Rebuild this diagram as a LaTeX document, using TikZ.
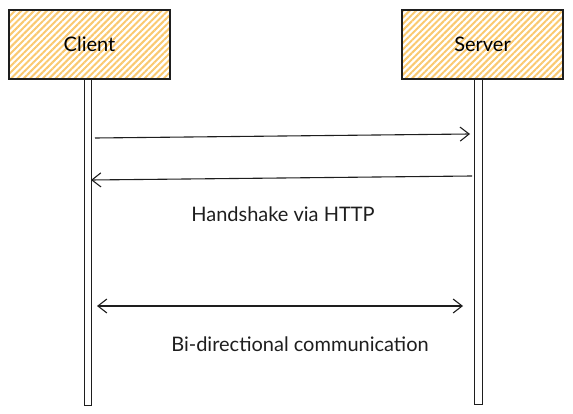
\documentclass[tikz,border=0pt]{standalone}
\usepackage{fontspec}
\setmainfont{Lato}
\usetikzlibrary{patterns.meta,arrows.meta}
\definecolor{hatch}{HTML}{FAC970}
\definecolor{ink}{HTML}{1E1E1E}
\tikzset{
  actor/.style={draw=ink, line width=1.1pt, minimum width=161pt, minimum height=69pt,
    inner sep=0pt, font=\fontsize{20}{24}\selectfont,
    pattern={Lines[angle=45,distance=4.5pt,line width=2pt]}, pattern color=hatch},
  lifeline/.style={draw=ink, line width=0.9pt},
  msg/.style={draw=ink, line width=1.1pt, -{Straight Barb[length=9pt,width=14pt,line width=1.1pt]}},
  bimsg/.style={draw=ink, line width=1.1pt, {Straight Barb[length=9pt,width=14pt,line width=1.1pt]}-{Straight Barb[length=9pt,width=14pt,line width=1.1pt]}},
  lbl/.style={font=\fontsize{20}{24}\selectfont, text=ink}
}
\begin{document}
\begin{tikzpicture}[x=1pt,y=-1pt]
\useasboundingbox (0,0) rectangle (573,414);
% lifelines
\draw[lifeline] (84,79) rectangle (91,405);
\draw[lifeline] (474,79) rectangle (482,404);
% actors
\node[actor] (client) at (89.5,44.5) {Client};
\node[actor] (server) at (482.5,44.5) {Server};
% message endpoints
\coordinate (c1) at (95,138);
\coordinate (s1) at (470,134);
\coordinate (s2) at (472,176);
\coordinate (c2) at (91,180);
\coordinate (c3) at (97,306);
\coordinate (s3) at (463,306);
\draw[msg] (c1) -- (s1);
\draw[msg] (s2) -- (c2);
\draw[bimsg] (c3) -- (s3);
\node[lbl] (hs) at (283,214) {Handshake via HTTP};
\node[lbl] (bd) at (300,344) {Bi-directional communication};
\end{tikzpicture}
\end{document}
